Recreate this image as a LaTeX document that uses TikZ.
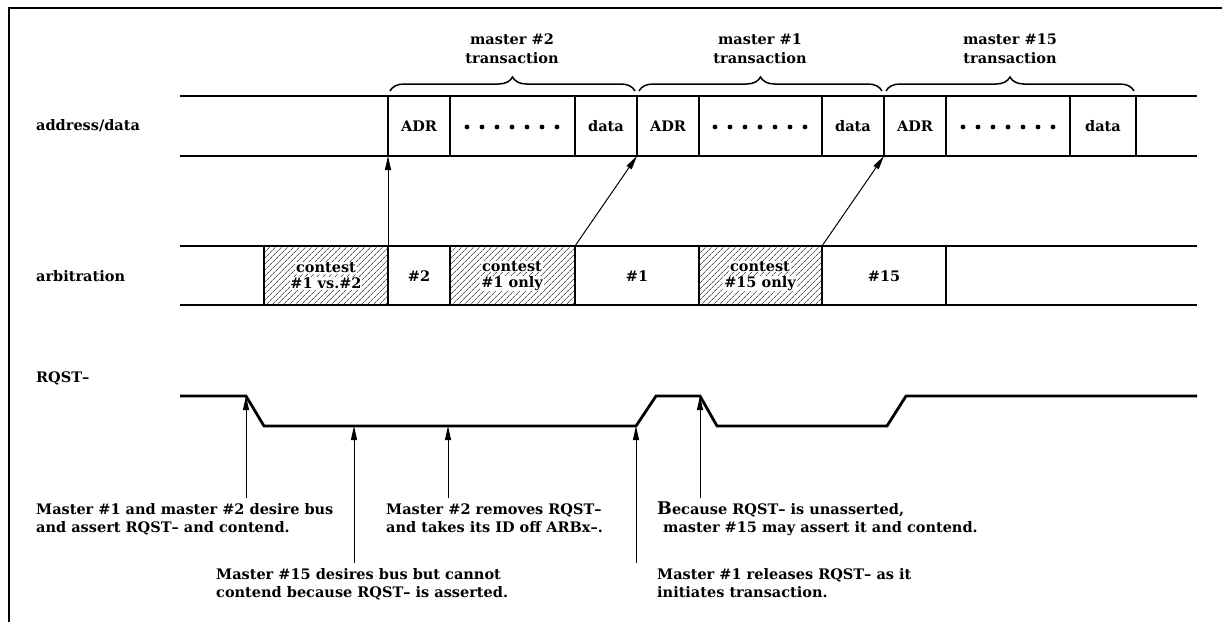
\documentclass[tikz,border=0pt]{standalone}
\usepackage{fontspec}
\setmainfont{DejaVu Serif}
\usetikzlibrary{arrows.meta, patterns.meta, decorations.pathreplacing, positioning}
\newcommand{\knock}[1]{{\setlength{\fboxsep}{0.8pt}\colorbox{white}{#1}}}

\begin{document}
\begin{tikzpicture}[x=1pt, y=-1pt,
    txt/.style={font=\fontsize{14.5}{18}\selectfont\bfseries, inner sep=0pt},
    cell/.style={txt, align=center},
    note/.style={txt, align=left, anchor=base west},
    bus/.style={line width=2.8pt},
    sep/.style={line width=1.6pt},
    hatch/.style={pattern={Lines[angle=45, distance=4pt, line width=0.6pt]}},
    arr/.style={-{Triangle[length=14pt, width=6pt]}, line width=1pt},
    grp/.style={decorate, decoration={brace, amplitude=14pt}, line width=1.5pt}
  ]
  \useasboundingbox (0,0) rectangle (1222,622);
  \draw[line width=2.4pt] (9,622) -- (9,8) -- (1222,8);

  % row labels
  \node[txt, anchor=west] (lbladdr) at (36,126) {address/data};
  \node[txt, anchor=west] (lblarb) at (36,276) {arbitration};
  \node[txt, anchor=west] (lblrqst) at (36,378) {RQST--};

  % address/data row
  \draw[bus] (180,96) -- (1197,96);
  \draw[bus] (180,156) -- (1197,156);
  \foreach \x in {388,450,575,637,699,822,884,946,1070,1136}
    \draw[sep] (\x,96) -- (\x,156);
  \node[cell] (adr1) at (419,126) {ADR};
  \node[cell] (data1) at (606,126) {data};
  \node[cell] (adr2) at (668,126) {ADR};
  \node[cell] (data2) at (853,126) {data};
  \node[cell] (adr3) at (915,126) {ADR};
  \node[cell] (data3) at (1103,126) {data};
  \foreach \c in {512,760,1008}
    \foreach \i in {-3,...,3}
      \fill (\c+15*\i,127) circle (2.4pt);

  % transactions
  \draw[grp] (390,91) -- (635,91);
  \draw[grp] (639,91) -- (882,91);
  \draw[grp] (886,91) -- (1134,91);
  \node[cell] (tr2) at (512,49) {master \#2\\[1pt]transaction};
  \node[cell] (tr1) at (760,49) {master \#1\\[1pt]transaction};
  \node[cell] (tr15) at (1010,49) {master \#15\\[1pt]transaction};

  % arbitration row
  \fill[hatch] (264,246) rectangle (388,305);
  \fill[hatch] (450,246) rectangle (575,305);
  \fill[hatch] (699,246) rectangle (822,305);
  \draw[bus] (180,246) -- (1197,246);
  \draw[bus] (180,305) -- (1197,305);
  \foreach \x in {264,388,450,575,699,822,946}
    \draw[sep] (\x,246) -- (\x,305);
  \node[cell, font=\fontsize{14.5}{16}\selectfont\bfseries] (con12) at (326,276) {\knock{contest}\\\knock{\#1 vs.\#2}};
  \node[cell] (arb2) at (419,276) {\#2};
  \node[cell, font=\fontsize{14.5}{16}\selectfont\bfseries] (con1) at (512,276) {\knock{contest}\\\knock{\#1 only}};
  \node[cell] (arb1) at (637,276) {\#1};
  \node[cell, font=\fontsize{14.5}{16}\selectfont\bfseries] (con15) at (760,276) {\knock{contest}\\\knock{\#15 only}};
  \node[cell] (arb15) at (884,276) {\#15};

  \coordinate (g2) at (388,246);
  \coordinate (g1) at (575,246);
  \coordinate (g15) at (822,246);
  \coordinate (s2) at (388,156);
  \coordinate (s1) at (637,156);
  \coordinate (s15) at (884,156);
  \draw[arr] (g2) -- (s2);
  \draw[arr] (g1) -- (s1);
  \draw[arr] (g15) -- (s15);

  % RQST- line
  \coordinate (q0) at (180,396);
  \coordinate (q1) at (246,396);
  \coordinate (q2) at (264,426);
  \coordinate (q3) at (636,426);
  \coordinate (q4) at (656,396);
  \coordinate (q5) at (700,396);
  \coordinate (q6) at (717,426);
  \coordinate (q7) at (887,426);
  \coordinate (q8) at (906,396);
  \coordinate (q9) at (1197,396);
  \draw[bus, line join=miter] (q0) -- (q1) -- (q2) -- (q3) -- (q4) -- (q5) -- (q6) -- (q7) -- (q8) -- (q9);

  % notes (base = last line)
  \node[note] (n1) at (36,532) {Master \#1 and master \#2 desire bus\\and assert RQST-- and contend.};
  \node[note] (n2) at (216,597) {Master \#15 desires bus but cannot\\contend because RQST-- is asserted.};
  \node[note] (n3) at (386,532) {Master \#2 removes RQST--\\and takes its ID off ARBx--.};
  \node[note] (n4) at (657,597) {Master \#1 releases RQST-- as it\\initiates transaction.};
  \node[note] (n5) at (657,532) {{\fontsize{17.5}{18}\selectfont B}ecause RQST-- is unasserted,\\\hspace*{6pt}master \#15 may assert it and contend.};

  \coordinate (p1) at (246,498);
  \coordinate (p2) at (354,563);
  \coordinate (p3) at (448,498);
  \coordinate (p4) at (636,563);
  \coordinate (p5) at (700,498);
  \coordinate (r2) at (354,426);
  \coordinate (r3) at (448,426);
  \draw[arr] (p1) -- (q1);
  \draw[arr] (p2) -- (r2);
  \draw[arr] (p3) -- (r3);
  \draw[arr] (p4) -- (q3);
  \draw[arr] (p5) -- (q5);
\end{tikzpicture}
\end{document}
